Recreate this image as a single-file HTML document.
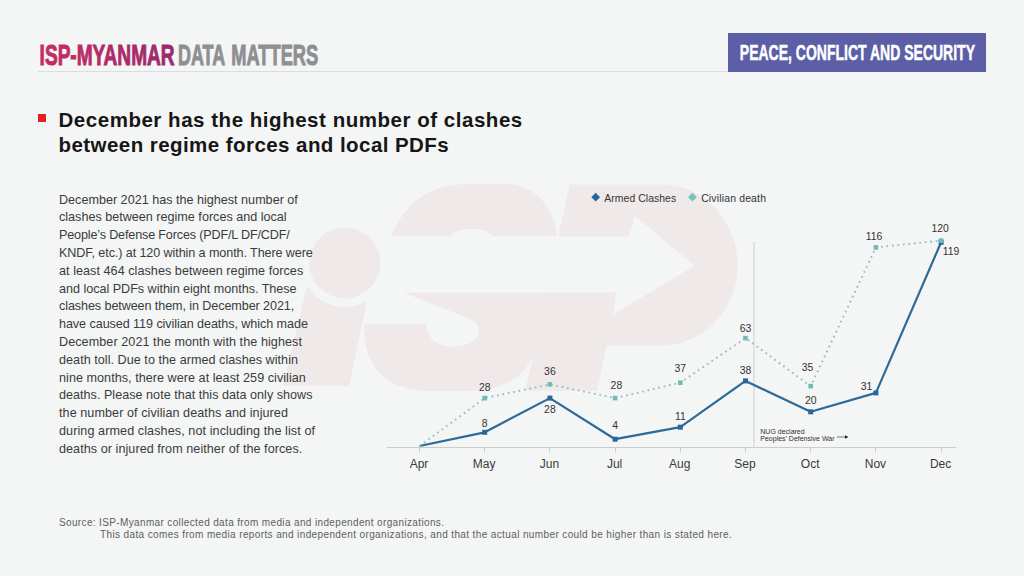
<!DOCTYPE html>
<html><head><meta charset="utf-8">
<style>
html,body{margin:0;padding:0;}
body{width:1024px;height:576px;overflow:hidden;background:#f4f5f5;position:relative;font-family:"Liberation Sans",sans-serif;}
.abs{position:absolute;white-space:nowrap;}
svg{position:absolute;left:0;top:0;}
#bullet{left:38px;top:114px;width:8px;height:8px;background:#e0212b;}
.h{left:58.5px;font-size:20.5px;font-weight:bold;color:#161616;line-height:25px;}
.b{left:59px;font-size:12.6px;line-height:17.8px;color:#3b3b3b;}
.src{font-size:10px;color:#606060;line-height:11px;}
</style></head>
<body>
<svg width="1024" height="576" viewBox="0 0 1024 576">
<g fill="#f0e9ea">
 <polygon points="307,286 370,286 349.3,385.9 283,385.9"/>
 <path d="M390.6,236.6 C405,205 425,184 470,184 L505,184 C535,184 552,205 557.6,236.6 Z"/>
 <path d="M402.7,292.3 L552,292.3 L533,356 C522,380 500,391 465,391 L430,391 C385,391 362,365 364.6,323.8 L426,323.8 C428,342 440,346.5 453,346.5 C472,346.5 481,337 478.5,327 C477,322 474,321 470,319 Z"/>
 <path d="M569.6,184.4 L661.3,184.4 A76.3,80.6 0 0 1 737.6,265 A76.3,80.5 0 0 1 661.3,345.5 L606.7,345.5 L597,390.8 L525.3,390.8 Z"/>
</g>
<g fill="#f4f5f5">
 <circle cx="344.8" cy="263" r="44"/>
 <path d="M450.2,236.8 C455,229 465,229 471.7,229 C480,229 488,230 493.2,236.8 Z"/>
 <polygon points="380,236.4 629,236.4 634.8,215.7 694.6,265.8 613.4,314.2 615.8,292.6 380,292.6"/>
</g>
<circle cx="344.8" cy="263" r="35.5" fill="#f0e9ea"/>
</svg>
<svg width="1024" height="576" viewBox="0 0 1024 576">
<defs><linearGradient id="hg" x1="40" y1="0" x2="175" y2="0" gradientUnits="userSpaceOnUse"><stop offset="0" stop-color="#c62c64"/><stop offset="1" stop-color="#9a296c"/></linearGradient></defs>
<text x="39.6" y="64.9" font-size="30.3" font-weight="bold" textLength="135.0" lengthAdjust="spacingAndGlyphs" fill="url(#hg)" stroke="url(#hg)" stroke-width="1.0">ISP-MYANMAR</text>
<text x="178.0" y="64.9" font-size="30.3" font-weight="bold" textLength="47.2" lengthAdjust="spacingAndGlyphs" fill="#8e8f93" stroke="#8e8f93" stroke-width="1.0">DATA</text>
<text x="231.3" y="64.9" font-size="30.3" font-weight="bold" textLength="86.9" lengthAdjust="spacingAndGlyphs" fill="#8e8f93" stroke="#8e8f93" stroke-width="1.0">MATTERS</text>
<rect x="38" y="71" width="690" height="1" fill="#dcdce6"/>
<rect x="728" y="33" width="258" height="39" fill="#5c5ea6"/>
<text x="739.8" y="59.8" font-size="22.8" font-weight="bold" textLength="235.2" lengthAdjust="spacingAndGlyphs" fill="#fff" stroke="#fff" stroke-width="0.5">PEACE, CONFLICT AND SECURITY</text>
</svg>
<div class="abs" id="bullet"></div>
<div class="abs h" id="h1" style="top:106.5px;letter-spacing:0.53px">December has the highest number of clashes</div>
<div class="abs h" id="h2" style="top:132.2px;letter-spacing:0.44px">between regime forces and local PDFs</div>
<div class="abs b" id="b1" style="top:191.50px;letter-spacing:0.003px">December 2021 has the highest number of</div>
<div class="abs b" id="b2" style="top:209.30px;letter-spacing:0.003px">clashes between regime forces and local</div>
<div class="abs b" id="b3" style="top:227.10px;letter-spacing:-0.157px">People’s Defense Forces (PDF/L DF/CDF/</div>
<div class="abs b" id="b4" style="top:244.90px;letter-spacing:-0.095px">KNDF, etc.) at 120 within a month. There were</div>
<div class="abs b" id="b5" style="top:262.70px;letter-spacing:0.049px">at least 464 clashes between regime forces</div>
<div class="abs b" id="b6" style="top:280.50px;letter-spacing:-0.022px">and local PDFs within eight months. These</div>
<div class="abs b" id="b7" style="top:298.30px;letter-spacing:-0.092px">clashes between them, in December 2021,</div>
<div class="abs b" id="b8" style="top:316.10px;letter-spacing:-0.069px">have caused 119 civilian deaths, which made</div>
<div class="abs b" id="b9" style="top:333.90px;letter-spacing:0.072px">December 2021 the month with the highest</div>
<div class="abs b" id="b10" style="top:351.70px;letter-spacing:0.04px">death toll. Due to the armed clashes within</div>
<div class="abs b" id="b11" style="top:369.50px;letter-spacing:0.041px">nine months, there were at least 259 civilian</div>
<div class="abs b" id="b12" style="top:387.30px;letter-spacing:0.018px">deaths. Please note that this data only shows</div>
<div class="abs b" id="b13" style="top:405.10px;letter-spacing:0.07px">the number of civilian deaths and injured</div>
<div class="abs b" id="b14" style="top:422.90px;letter-spacing:0.087px">during armed clashes, not including the list of</div>
<div class="abs b" id="b15" style="top:440.70px;letter-spacing:0.055px">deaths or injured from neither of the forces.</div>
<div class="abs src" id="src1" style="left:59px;top:517.2px;letter-spacing:0.36px">Source: ISP-Myanmar collected data from media and independent organizations.</div>
<div class="abs src" id="src2" style="left:100px;top:528.5px;letter-spacing:0.38px">This data comes from media reports and independent organizations, and that the actual number could be higher than is stated here.</div>
<svg width="1024" height="576" viewBox="0 0 1024 576" style="font-family:'Liberation Sans',sans-serif">
<line x1="387" y1="447.5" x2="956" y2="447.5" stroke="#cccccc" stroke-width="1"/>
<line x1="419.5" y1="448" x2="419.5" y2="452.5" stroke="#cccccc" stroke-width="1"/>
<text x="419.0" y="468" font-size="12" fill="#3a3a3a" text-anchor="middle">Apr</text>
<line x1="484.5" y1="448" x2="484.5" y2="452.5" stroke="#cccccc" stroke-width="1"/>
<text x="484.2" y="468" font-size="12" fill="#3a3a3a" text-anchor="middle">May</text>
<line x1="549.5" y1="448" x2="549.5" y2="452.5" stroke="#cccccc" stroke-width="1"/>
<text x="549.4" y="468" font-size="12" fill="#3a3a3a" text-anchor="middle">Jun</text>
<line x1="615.5" y1="448" x2="615.5" y2="452.5" stroke="#cccccc" stroke-width="1"/>
<text x="614.6" y="468" font-size="12" fill="#3a3a3a" text-anchor="middle">Jul</text>
<line x1="680.5" y1="448" x2="680.5" y2="452.5" stroke="#cccccc" stroke-width="1"/>
<text x="679.8" y="468" font-size="12" fill="#3a3a3a" text-anchor="middle">Aug</text>
<line x1="745.5" y1="448" x2="745.5" y2="452.5" stroke="#cccccc" stroke-width="1"/>
<text x="745.0" y="468" font-size="12" fill="#3a3a3a" text-anchor="middle">Sep</text>
<line x1="810.5" y1="448" x2="810.5" y2="452.5" stroke="#cccccc" stroke-width="1"/>
<text x="810.2" y="468" font-size="12" fill="#3a3a3a" text-anchor="middle">Oct</text>
<line x1="875.5" y1="448" x2="875.5" y2="452.5" stroke="#cccccc" stroke-width="1"/>
<text x="875.4" y="468" font-size="12" fill="#3a3a3a" text-anchor="middle">Nov</text>
<line x1="941.5" y1="448" x2="941.5" y2="452.5" stroke="#cccccc" stroke-width="1"/>
<text x="940.6" y="468" font-size="12" fill="#3a3a3a" text-anchor="middle">Dec</text>
<line x1="754" y1="242" x2="754" y2="447" stroke="#bdbdbd" stroke-width="1" stroke-dasharray="1.5 0.7"/>
<text x="760.3" y="434" font-size="7" fill="#333">NUG declared</text>
<text x="760.3" y="441" font-size="7" fill="#333">Peoples’ Defensive War</text>
<line x1="837" y1="437" x2="846" y2="437" stroke="#555" stroke-width="0.8"/><polygon points="845,435.3 848.5,437 845,438.7" fill="#222"/>
<polyline points="419.5,446.0 484.7,432.3 549.9,398.1 615.1,439.2 680.3,427.2 745.5,380.9 810.7,411.8 875.9,392.9 941.1,242.3" fill="none" stroke="#2c6a98" stroke-width="2.2" stroke-linejoin="round"/>
<rect x="482.2" y="429.8" width="5" height="5" fill="#2a6698"/>
<rect x="547.4" y="395.6" width="5" height="5" fill="#2a6698"/>
<rect x="612.6" y="436.7" width="5" height="5" fill="#2a6698"/>
<rect x="677.8" y="424.7" width="5" height="5" fill="#2a6698"/>
<rect x="743.0" y="378.4" width="5" height="5" fill="#2a6698"/>
<rect x="808.2" y="409.3" width="5" height="5" fill="#2a6698"/>
<rect x="873.4" y="390.4" width="5" height="5" fill="#2a6698"/>
<rect x="938.6" y="239.8" width="5" height="5" fill="#2a6698"/>
<polyline points="419.5,446.0 484.7,398.1 549.9,384.4 615.1,398.1 680.3,382.7 745.5,338.1 810.7,386.1 875.9,247.4 941.1,240.6" fill="none" stroke="#92bdba" stroke-width="1.9" stroke-dasharray="1.7 3.8"/>
<rect x="482.4" y="395.8" width="4.6" height="4.6" fill="#6fbcb7"/>
<rect x="547.6" y="382.1" width="4.6" height="4.6" fill="#6fbcb7"/>
<rect x="612.8" y="395.8" width="4.6" height="4.6" fill="#6fbcb7"/>
<rect x="678.0" y="380.4" width="4.6" height="4.6" fill="#6fbcb7"/>
<rect x="743.2" y="335.8" width="4.6" height="4.6" fill="#6fbcb7"/>
<rect x="808.4" y="383.8" width="4.6" height="4.6" fill="#6fbcb7"/>
<rect x="873.6" y="245.1" width="4.6" height="4.6" fill="#6fbcb7"/>
<rect x="938.8" y="238.3" width="4.6" height="4.6" fill="#6fbcb7"/>
<text x="484.7" y="391.3" font-size="10.4" fill="#333" text-anchor="middle">28</text>
<text x="549.9" y="375.1" font-size="10.4" fill="#333" text-anchor="middle">36</text>
<text x="616.4" y="389.2" font-size="10.4" fill="#333" text-anchor="middle">28</text>
<text x="680.3" y="372.3" font-size="10.4" fill="#333" text-anchor="middle">37</text>
<text x="745.5" y="331.9" font-size="10.4" fill="#333" text-anchor="middle">63</text>
<text x="807.5" y="370.8" font-size="10.4" fill="#333" text-anchor="middle">35</text>
<text x="874.0" y="239.5" font-size="10.4" fill="#333" text-anchor="middle">116</text>
<text x="940.1" y="231.9" font-size="10.4" fill="#333" text-anchor="middle">120</text>
<text x="484.7" y="427.1" font-size="10.4" fill="#333" text-anchor="middle">8</text>
<text x="549.9" y="413.1" font-size="10.4" fill="#333" text-anchor="middle">28</text>
<text x="615.1" y="429.0" font-size="10.4" fill="#333" text-anchor="middle">4</text>
<text x="680.3" y="419.7" font-size="10.4" fill="#333" text-anchor="middle">11</text>
<text x="745.5" y="374.0" font-size="10.4" fill="#333" text-anchor="middle">38</text>
<text x="810.7" y="403.5" font-size="10.4" fill="#333" text-anchor="middle">20</text>
<text x="866.5" y="389.6" font-size="10.4" fill="#333" text-anchor="middle">31</text>
<text x="951.0" y="254.5" font-size="10.4" fill="#333" text-anchor="middle">119</text>
<polygon points="595.7,192.8 600.1,197.2 595.7,201.6 591.3,197.2" fill="#2a6698"/>
<text x="604.3" y="202.1" font-size="10.4" fill="#333" letter-spacing="0.07">Armed Clashes</text>
<polygon points="692.4,192.8 696.8,197.2 692.4,201.6 688,197.2" fill="#76c2bd"/>
<text x="701.2" y="202.1" font-size="10.4" fill="#333" letter-spacing="0.18">Civilian death</text>
</svg>
</body></html>
